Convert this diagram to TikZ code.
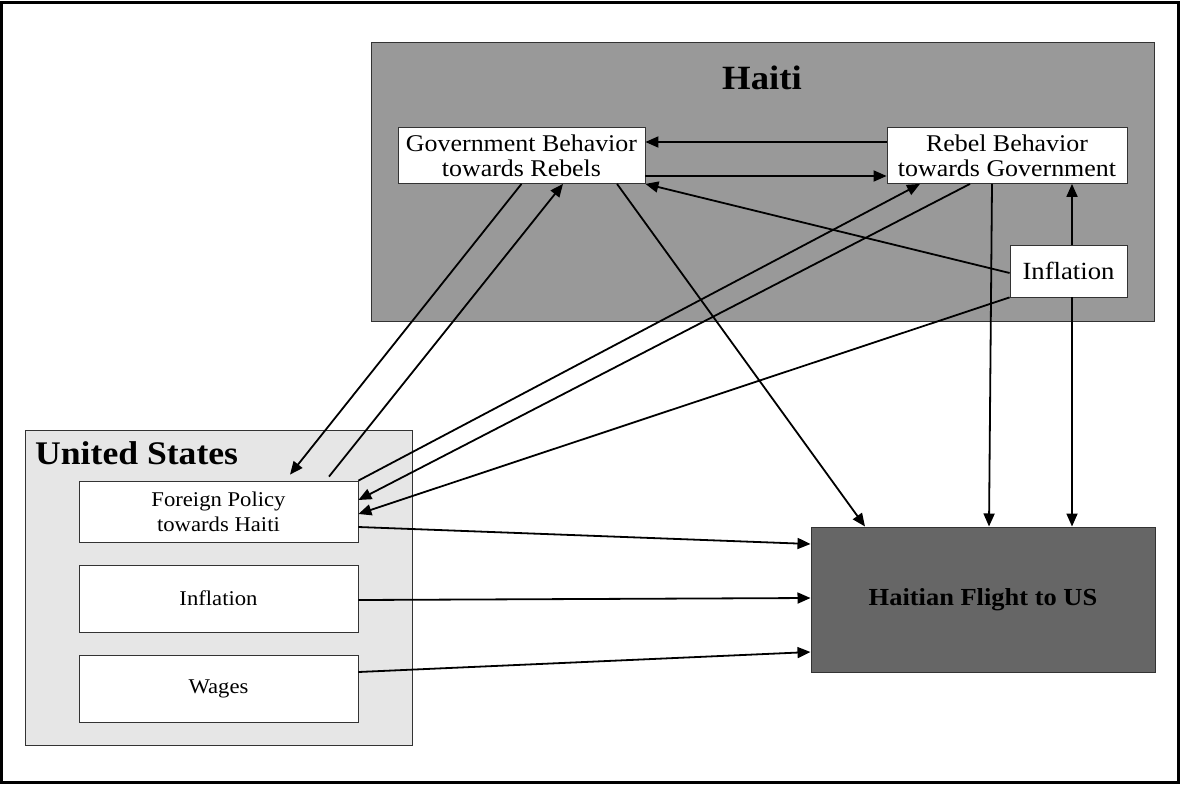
\documentclass[tikz,border=0pt]{standalone}
\usepackage{fontspec}
\setmainfont{Liberation Serif}[FakeStretch=1.08]
\usetikzlibrary{arrows.meta,positioning,calc}
\definecolor{haitigray}{HTML}{999999}
\definecolor{usgray}{HTML}{E6E6E6}
\definecolor{flightgray}{HTML}{666666}
\definecolor{edgegray}{HTML}{333333}

\begin{document}
\begin{tikzpicture}[x=1pt,y=-1pt,
    region/.style={draw=edgegray,line width=1pt,inner sep=0pt},
    factor/.style={draw=edgegray,fill=white,line width=0.8pt,align=center,inner sep=0pt},
    link/.style={line width=1.8pt,-{Triangle[length=13pt,width=11pt]}}]
    \useasboundingbox (0,0) rectangle (1180,784);
    \draw[line width=3pt] (1.5,3) rectangle (1178.5,782.5);

    % the two countries
    \node[region,fill=haitigray,minimum width=783pt,minimum height=278pt] (haiti) at (762.5,182) {};
    \node[font=\fontsize{34}{34}\selectfont\bfseries,anchor=base] (haititle) at (762,89) {Haiti};
    \node[region,fill=usgray,minimum width=387pt,minimum height=315pt] (us) at (218.5,587.5) {};
    \node[font=\fontsize{33}{33}\selectfont\bfseries,anchor=base west,inner sep=0pt] (ustitle) at (35,464) {United States};

    % factors in Haiti
    \node[factor,font=\fontsize{24}{25}\selectfont,minimum width=247pt,minimum height=56pt] (gov) at (521.5,155.5) {Government Behavior\\towards Rebels};
    \node[factor,font=\fontsize{24}{25}\selectfont,minimum width=240pt,minimum height=56pt] (rebel) at (1007,155.5) {Rebel Behavior\\towards Government};
    \node[factor,font=\fontsize{24.7}{25}\selectfont,minimum width=117pt,minimum height=52pt] (inflh) at (1068.5,271) {Inflation};

    % factors in the US
    \node[factor,font=\fontsize{21}{25}\selectfont,minimum width=279pt,minimum height=61pt] (policy) at (218.5,511.5) {Foreign Policy\\towards Haiti};
    \node[factor,font=\fontsize{21}{25}\selectfont,minimum width=279pt,minimum height=67pt] (influs) at (218.5,598.5) {Inflation};
    \node[factor,font=\fontsize{21}{25}\selectfont,minimum width=279pt,minimum height=67pt] (wages) at (218.5,688.5) {Wages};

    \node[region,fill=flightgray,minimum width=344pt,minimum height=145pt,font=\fontsize{24.5}{25}\selectfont\bfseries] (flight) at (983,599.5) {Haitian Flight to US};

    % links
    \draw[link] ([yshift=13.5pt]rebel.west) -- ([yshift=13.5pt]gov.east);
    \draw[link] ([yshift=-20.5pt]gov.east) -- ([yshift=-20.5pt]rebel.west);
    \draw[link] (gov.south) -- ([xshift=71.5pt,yshift=6pt]policy.north);
    \draw[link] ([xshift=110.5pt,yshift=4pt]policy.north) -- ([xshift=41.5pt]gov.south);
    \draw[link] ([xshift=95.5pt]gov.south) -- ([xshift=-118pt]flight.north);
    \draw[link] (policy.north east) -- ([xshift=-87pt]rebel.south);
    \draw[link] ([xshift=-37pt]rebel.south) -- ([yshift=11.5pt]policy.east);
    \draw[link] (inflh.south west) -- ([yshift=-2.5pt]policy.east);
    \draw[link] ([yshift=-2pt]inflh.west) -- (gov.south east);
    \draw[link] ([xshift=3.5pt]inflh.north) -- ([xshift=3.5pt]inflh.north |- rebel.south);
    \draw[link] ([xshift=-15pt]rebel.south) -- ([xshift=6pt]flight.north);
    \draw[link] ([xshift=3.5pt]inflh.south) -- ([xshift=3.5pt]inflh.south |- flight.north);
    \draw[link] ([yshift=-15.5pt]policy.east) -- ([yshift=55.5pt]flight.west);
    \draw[link] ([yshift=-1.5pt]influs.east) -- ([yshift=1.5pt]flight.west);
    \draw[link] ([yshift=16.5pt]wages.east) -- ([yshift=-52.5pt]flight.west);
\end{tikzpicture}
\end{document}
